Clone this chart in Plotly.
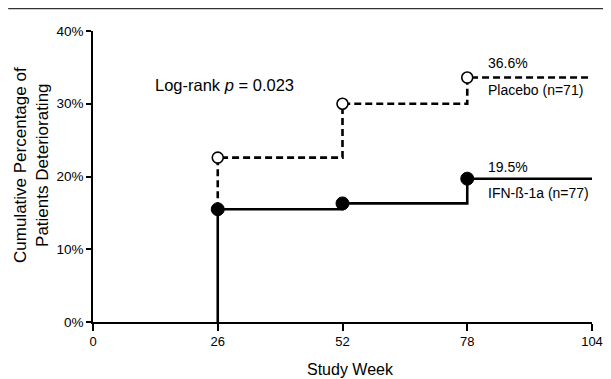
import plotly.graph_objects as go

weeks = [26, 52, 78]
placebo = [22.6, 30.0, 33.6]
ifn = [15.5, 16.3, 19.7]
end_week = 104
xticks = [0, 26, 52, 78, 104]
yticks = [0, 10, 20, 30, 40]
ytick_text = ["0%", "10%", "20%", "30%", "40%"]

FONT = "Liberation Sans, Arial, sans-serif"

def step_path(xs, ys, start_y, x_end):
    px, py = [xs[0]], [start_y]
    for i, (x, y) in enumerate(zip(xs, ys)):
        px.append(x); py.append(y)
        nx = xs[i + 1] if i + 1 < len(xs) else x_end
        px.append(nx); py.append(y)
    return px, py

fig = go.Figure()

ix, iy = step_path(weeks, ifn, 0, end_week)
fig.add_trace(go.Scatter(x=ix, y=iy, mode="lines", cliponaxis=False,
                         line=dict(color="black", width=2.6), hoverinfo="skip"))
px_, py_ = step_path(weeks, placebo, ifn[0], end_week)
fig.add_trace(go.Scatter(x=px_, y=py_, mode="lines", cliponaxis=False,
                         line=dict(color="black", width=2.6, dash="7px,4px"), hoverinfo="skip"))
fig.add_trace(go.Scatter(x=weeks, y=ifn, mode="markers", cliponaxis=False,
                         marker=dict(size=13, color="black", line=dict(color="black", width=1))))
fig.add_trace(go.Scatter(x=weeks, y=placebo, mode="markers", cliponaxis=False,
                         marker=dict(size=11, color="white", line=dict(color="black", width=1.6))))

anns = [
    dict(x=12.5, y=32.6, text="Log-rank <i>p</i> = 0.023", size=16.5),
    dict(x=82.0, y=35.6, text="36.6%", size=14),
    dict(x=82.0, y=31.9, text="Placebo (n=71)", size=14),
    dict(x=82.0, y=21.3, text="19.5%", size=14),
    dict(x=82.0, y=17.7, text="IFN-ß-1a (n=77)", size=14),
]
for a in anns:
    fig.add_annotation(x=a["x"], y=a["y"], text=a["text"], showarrow=False,
                       xanchor="left", yanchor="middle",
                       font=dict(family=FONT, size=a["size"], color="black"))

# axis titles
fig.add_annotation(xref="paper", yref="paper", x=-0.122, y=0.54,
                   text="Cumulative Percentage of<br>Patients Deteriorating",
                   textangle=-90, showarrow=False, xanchor="center", yanchor="middle",
                   font=dict(family=FONT, size=17, color="black"))
fig.add_annotation(xref="paper", yref="paper", x=0.517, y=-0.162,
                   text="Study Week", showarrow=False, xanchor="center", yanchor="middle",
                   font=dict(family=FONT, size=16, color="black"))

fig.add_shape(type="line", xref="paper", yref="paper",
              x0=-0.17, x1=1.04, y0=1.079, y1=1.079,
              line=dict(color="#333333", width=2.6))

# page body has an 8px default margin, so the figure is offset by 8px
fig.update_layout(
    width=603, height=371,
    margin=dict(l=85, r=19, t=23, b=57),
    paper_bgcolor="white", plot_bgcolor="white",
    showlegend=False,
    font=dict(family=FONT, color="black"),
    xaxis=dict(range=[0, 104], tickvals=xticks, ticktext=[str(t) for t in xticks],
               ticks="outside", ticklen=7, tickwidth=1.5, tickcolor="black",
               showline=True, linecolor="black", linewidth=1.5,
               showgrid=False, zeroline=False, automargin=False,
               tickfont=dict(size=13, family=FONT)),
    yaxis=dict(range=[0, 40], tickvals=yticks, ticktext=ytick_text,
               ticks="outside", ticklen=5, tickwidth=1.5, tickcolor="black",
               showline=True, linecolor="black", linewidth=1.5,
               showgrid=False, zeroline=False, automargin=False,
               tickfont=dict(size=13.5, family=FONT)),
)

fig.write_html("out.html")
